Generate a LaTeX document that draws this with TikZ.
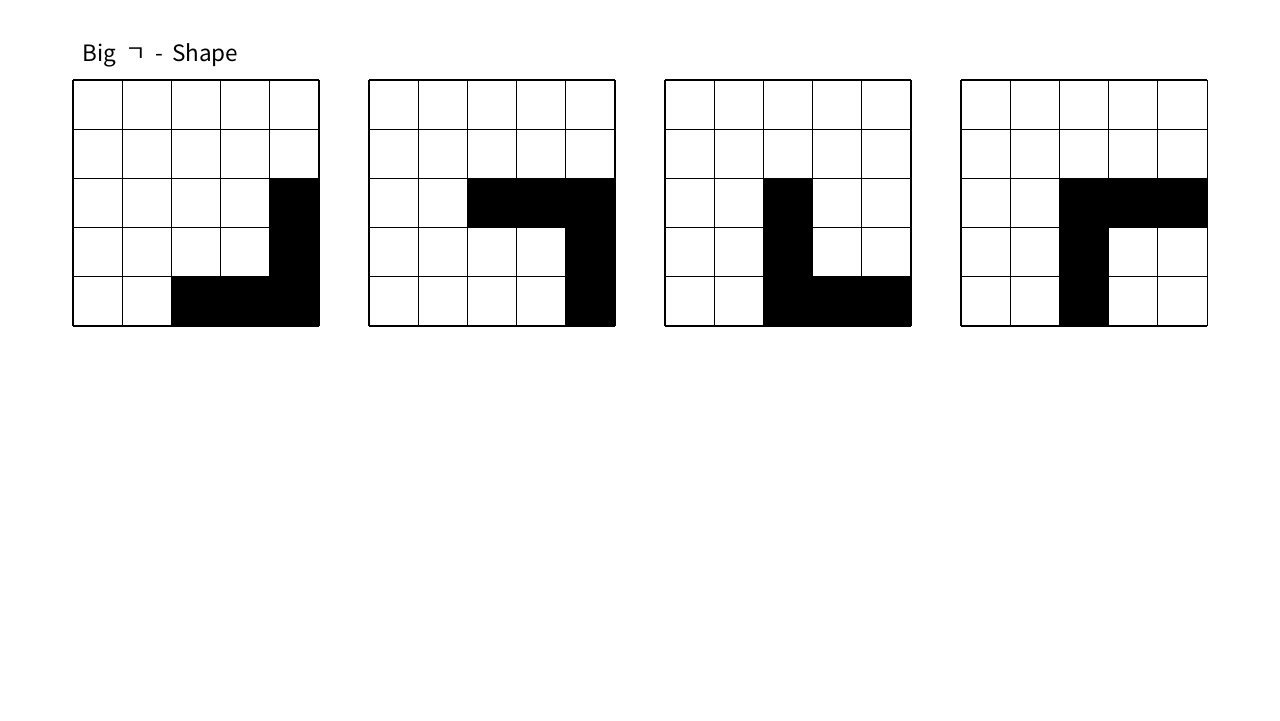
\documentclass[tikz,border=0pt]{standalone}
\usepackage{fontspec}
\newfontfamily\krfont[WordSpace=1.8]{Noto Sans CJK KR}
\tikzset{
  headline/.style={font=\krfont\fontsize{6.4}{7.5}\selectfont, inner sep=0pt},
  gridline/.style={draw=black, line width=0.3pt},
  shaded/.style={fill=black}
}
\begin{document}
\begin{tikzpicture}[x=0.01cm, y=-0.01cm]
    \useasboundingbox[fill=white] (0,0) rectangle (1280,720);
    \node[headline, anchor=base west] (title) at (82,61) {Big ㄱ - Shape};
    % four 5x5 boards, shaded cells given as col/row
    \foreach \g/\cells in {0/{4/2,4/3,4/4,2/4,3/4},
                           1/{2/2,3/2,4/2,4/3,4/4},
                           2/{2/2,2/3,2/4,3/4,4/4},
                           3/{2/2,3/2,4/2,2/3,2/4}}{
        \begin{scope}[shift={(73+296*\g,80)}]
            \foreach \k in {0,...,5}{
                \draw[gridline] (\k*49.2,0) -- (\k*49.2,246);
                \draw[gridline] (0,\k*49.2) -- (246,\k*49.2);
            }
            \foreach \c/\r in \cells
                \fill[shaded] (\c*49.2,\r*49.2) rectangle ++(49.2,49.2);
        \end{scope}
    }
\end{tikzpicture}
\end{document}
